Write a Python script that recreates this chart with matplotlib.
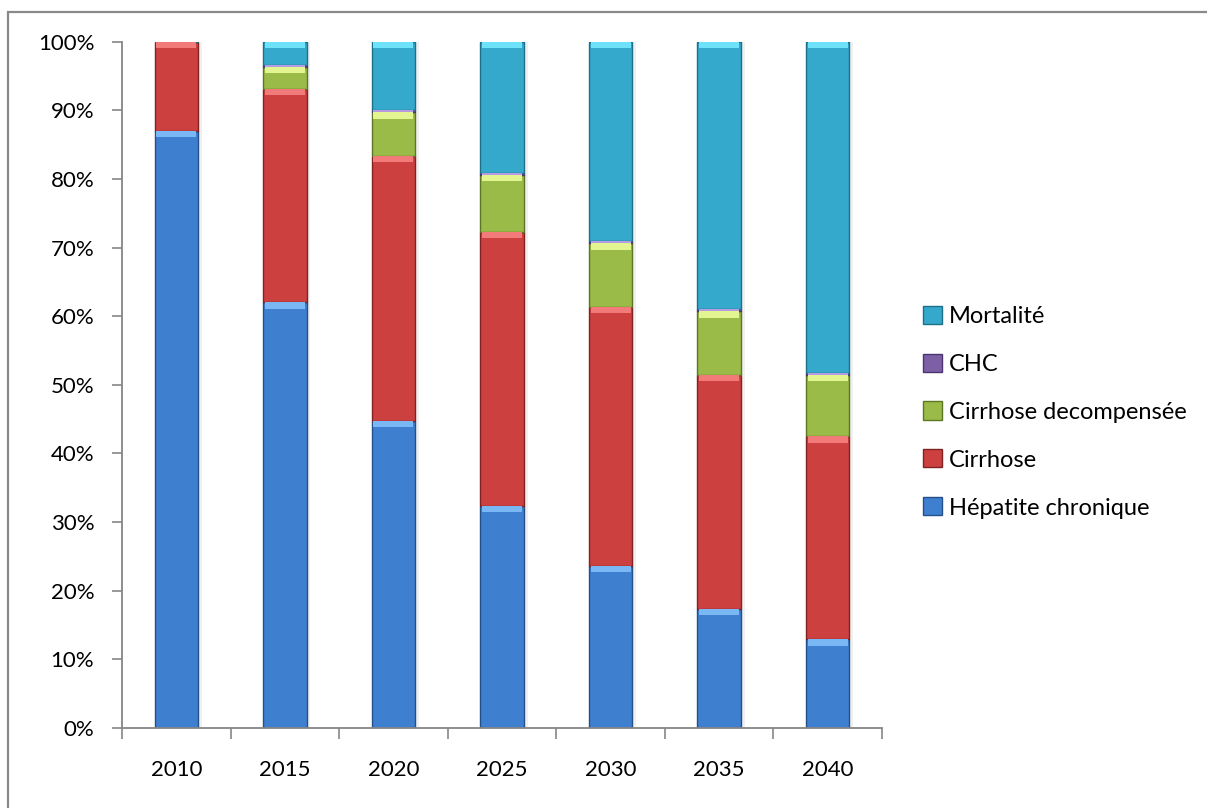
import numpy as np
import matplotlib.pyplot as plt
from matplotlib.patches import Rectangle, Patch
from matplotlib.ticker import PercentFormatter

years = ['2010', '2015', '2020', '2025', '2030', '2035', '2040']
hepatite = [87.0, 62.0, 44.8, 32.4, 23.6, 17.4, 12.9]
cirrhose = [13.0, 31.1, 38.6, 39.9, 37.8, 34.0, 29.6]
decompensee = [0.0, 3.2, 6.3, 8.3, 9.2, 9.3, 8.9]
chc = [0.0, 0.3, 0.3, 0.3, 0.3, 0.3, 0.3]
mortalite = [0.0, 3.4, 10.0, 19.1, 29.1, 39.0, 48.3]

series = [
    ('Hépatite chronique', hepatite, '#3f7fcf', '#24508a', '#7ab8f5'),
    ('Cirrhose', cirrhose, '#cc4040', '#7e2222', '#f27a78'),
    ('Cirrhose decompensée', decompensee, '#9abb48', '#5e7526', '#e2f590'),
    ('CHC', chc, '#7d5fa6', '#4b3470', '#b79be0'),
    ('Mortalité', mortalite, '#35a9cc', '#1e6f88', '#6fe2fb'),
]

plt.rcParams['font.family'] = ['Lato', 'DejaVu Sans']

fig = plt.figure(figsize=(12.07, 8.08), dpi=100)
ax = fig.add_axes([0.1011, 0.099, 0.6296, 0.8494])

x = np.arange(len(years))
width = 0.4
bottom = np.zeros(len(years))
handles = []
for name, vals, color, dark, light in series:
    vals = np.array(vals)
    # soft shadow to the right of the bars
    ax.bar(x + 0.035, vals, width, bottom=bottom, color='#000000', alpha=0.06,
           linewidth=0, zorder=1)
    ax.bar(x, vals, width, bottom=bottom, color=color, edgecolor=dark,
           linewidth=1.0, zorder=2)
    # light bevel strip at the top of each segment
    strip = np.minimum(vals, 0.9)
    ax.bar(x, strip, width * 0.92, bottom=bottom + vals - strip, color=light,
           linewidth=0, zorder=3)
    bottom += vals
    handles.append(Patch(facecolor=color, edgecolor=dark, label=name))

ax.set_xlim(-0.5, len(years) - 0.5)
ax.set_ylim(0, 100)
ax.set_yticks(np.arange(0, 101, 10))
ax.yaxis.set_major_formatter(PercentFormatter(decimals=0))
ax.set_xticks(x)
ax.set_xticklabels(years)
ax.set_xticks(np.arange(-0.5, len(years)), minor=True)
ax.tick_params(axis='x', which='major', length=0, pad=23, labelsize=16)
ax.tick_params(axis='x', which='minor', length=8, width=1.2, color='#868686',
               direction='out')
ax.tick_params(axis='y', length=7, width=1.2, color='#868686', pad=13,
               labelsize=16)

for side in ['top', 'right']:
    ax.spines[side].set_visible(False)
for side in ['left', 'bottom']:
    ax.spines[side].set_color('#868686')
    ax.spines[side].set_linewidth(1.3)

ax.legend(handles[::-1], [h.get_label() for h in handles[::-1]],
          loc='center left', bbox_to_anchor=(0.757, 0.49),
          bbox_transform=fig.transFigure, frameon=False, fontsize=17,
          handlelength=0.8, handleheight=0.8, handletextpad=0.3,
          labelspacing=1.13, borderaxespad=0)

# chart area border
fig.patches.append(Rectangle((8 / 1207, -0.1), 1.2, 1 - 12 / 808 + 0.1,
                             transform=fig.transFigure, fill=False,
                             edgecolor='#898989', linewidth=1.6))

fig.savefig('out.png', dpi=100)
